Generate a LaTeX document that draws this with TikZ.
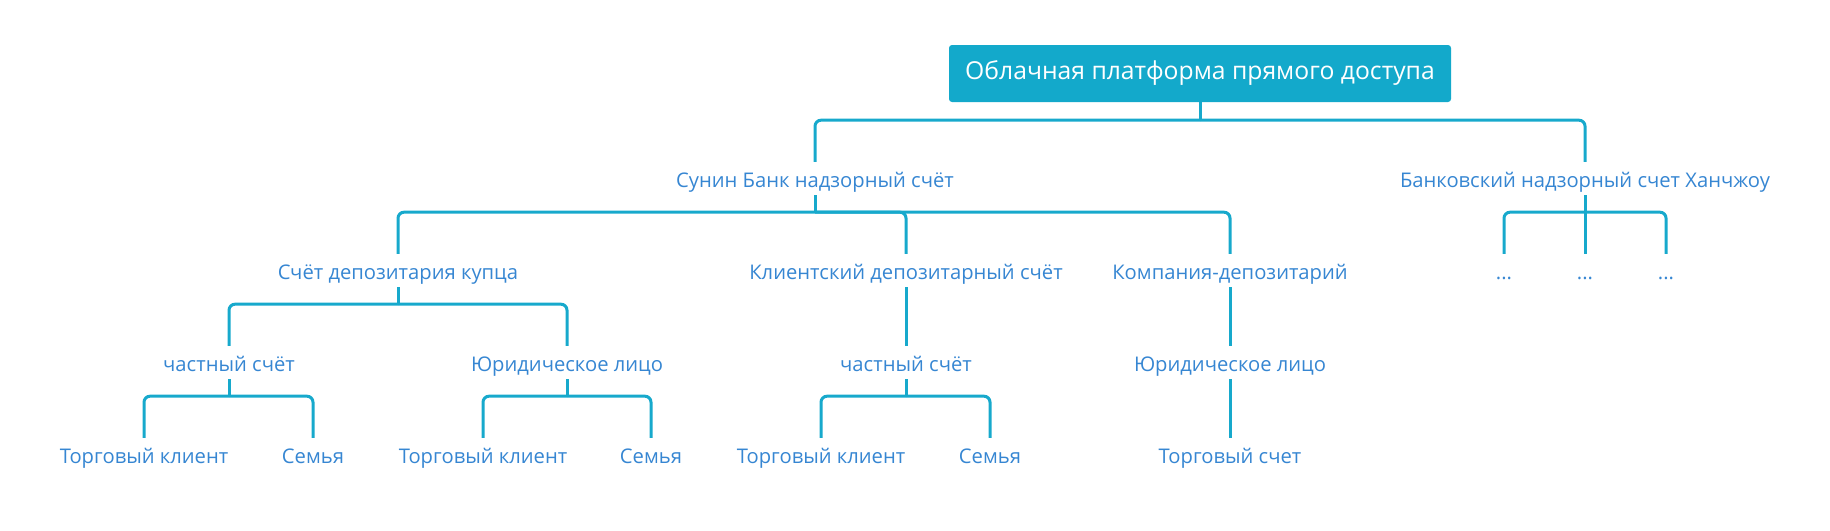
\documentclass[tikz,border=0pt]{standalone}
\usepackage{fontspec}
\setmainfont{Open Sans}
\definecolor{ln}{HTML}{17A9CC}
\definecolor{tx}{HTML}{3686D2}
\definecolor{rootfill}{HTML}{13A9CB}
\begin{document}
\begin{tikzpicture}[x=1pt,y=-1pt,
  lbl/.style={inner xsep=1pt, inner ysep=0pt, minimum height=33pt, text height=17pt, text depth=0pt, text=tx, font=\fontsize{20.2}{20.2}\selectfont},
  rootbox/.style={fill=rootfill, text=white, rounded corners=3pt, minimum width=502pt, minimum height=57pt, inner sep=0pt, font=\fontsize{24.7}{24.7}\selectfont},
  conn/.style={draw=ln, line width=3pt, rounded corners=6pt},
  stub/.style={draw=ln, line width=3pt}]
\useasboundingbox (0,0) rectangle (1830,530);
% nodes
\node[rootbox] (root) at (1200,73.5) {Облачная платформа прямого доступа};
\node[lbl] (sunin) at (815,178.5) {Сунин Банк надзорный счёт};
\node[lbl] (hang) at (1585,178.5) {Банковский надзорный счет Ханчжоу};
\node[lbl] (schet) at (398,270.5) {Счёт депозитария купца};
\node[lbl] (klient) at (906,270.5) {Клиентский депозитарный счёт};
\node[lbl] (komp) at (1230,270.5) {Компания-депозитарий};
\node[lbl] (d1) at (1504,270.5) {...};
\node[lbl] (d2) at (1585,270.5) {...};
\node[lbl] (d3) at (1666,270.5) {...};
\node[lbl] (chast1) at (229,362.5) {частный счёт};
\node[lbl] (yur1) at (567,362.5) {Юридическое лицо};
\node[lbl] (chast2) at (906,362.5) {частный счёт};
\node[lbl] (yur2) at (1230,362.5) {Юридическое лицо};
\node[lbl] (tk1) at (144,454.5) {Торговый клиент};
\node[lbl] (sem1) at (313,454.5) {Семья};
\node[lbl] (tk2) at (483,454.5) {Торговый клиент};
\node[lbl] (sem2) at (651,454.5) {Семья};
\node[lbl] (tk3) at (821,454.5) {Торговый клиент};
\node[lbl] (sem3) at (990,454.5) {Семья};
\node[lbl] (ts) at (1230,454.5) {Торговый счет};
% connectors
\draw[stub] (root.south) -- ++(0,18) coordinate (rootj);
\draw[conn] (rootj) -| (sunin.north);
\draw[conn] (rootj) -| (hang.north);
\draw[stub] (sunin.south) -- ++(0,17) coordinate (suninj);
\draw[conn] (suninj) -| (schet.north);
\draw[conn] (suninj) -| (klient.north);
\draw[conn] (suninj) -| (komp.north);
\draw[stub] (hang.south) -- ++(0,17) coordinate (hangj);
\draw[conn] (hangj) -| (d1.north);
\draw[stub] (hangj) -- (d2.north);
\draw[conn] (hangj) -| (d3.north);
\draw[stub] (schet.south) -- ++(0,17) coordinate (schetj);
\draw[conn] (schetj) -| (chast1.north);
\draw[conn] (schetj) -| (yur1.north);
\draw[stub] (klient.south) -- (chast2.north);
\draw[stub] (komp.south) -- (yur2.north);
\draw[stub] (chast1.south) -- ++(0,17) coordinate (chast1j);
\draw[conn] (chast1j) -| (tk1.north);
\draw[conn] (chast1j) -| (sem1.north);
\draw[stub] (yur1.south) -- ++(0,17) coordinate (yur1j);
\draw[conn] (yur1j) -| (tk2.north);
\draw[conn] (yur1j) -| (sem2.north);
\draw[stub] (chast2.south) -- ++(0,17) coordinate (chast2j);
\draw[conn] (chast2j) -| (tk3.north);
\draw[conn] (chast2j) -| (sem3.north);
\draw[stub] (yur2.south) -- (ts.north);
\end{tikzpicture}
\end{document}
